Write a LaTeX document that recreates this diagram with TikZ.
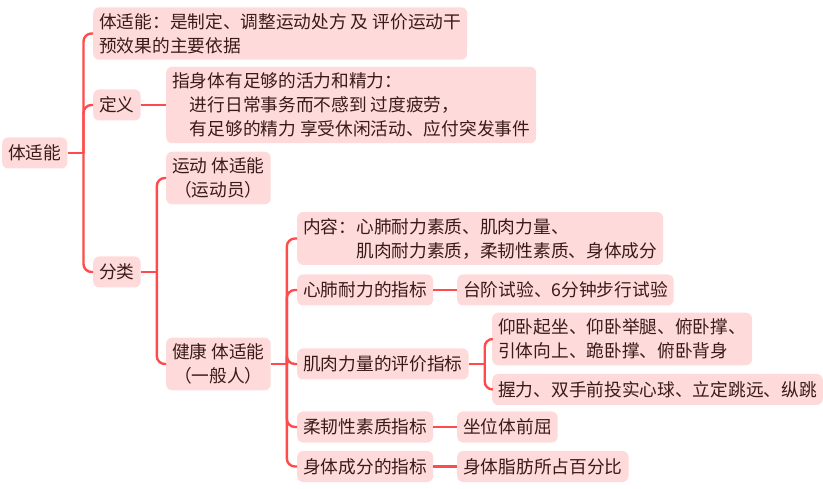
\documentclass[tikz,border=0pt]{standalone}
\usepackage{fontspec}
\setmainfont{Noto Sans CJK SC}
\usetikzlibrary{calc}

\definecolor{mmline}{HTML}{FF4B4B}
\definecolor{mmfill}{HTML}{FFDADA}
\definecolor{mmtext}{HTML}{3A1A1A}

\begin{document}
\begin{tikzpicture}[
            x=1pt, y=-1pt,
            font=\fontsize{17.7}{24}\selectfont,
            topic/.style={anchor=west, fill=mmfill, text=mmtext, rounded corners=6pt,
                inner xsep=6pt, inner ysep=6pt, minimum height=31pt, align=left},
            link/.style={draw=mmline, line width=2.4pt, rounded corners=8pt}
        ]
        \useasboundingbox (0,0) rectangle (823,489);

        % Offset of a branch trunk from its parent
        \def\trunk{16}

        % --- Level 0 and 1 ---
        \node[topic] (root) at (2,153) {体适能};
        \node[topic] (basis) at (93,33.5) {体适能：是制定、调整运动处方 及 评价运动干\\预效果的主要依据};
        \node[topic] (def) at (93,105) {定义};
        \node[topic] (cls) at (93,272) {分类};

        % --- Definition ---
        \node[topic] (defText) at (166,105) {指身体有足够的活力和精力：\\\hspace*{1em}进行日常事务而不感到 过度疲劳，\\\hspace*{1em}有足够的精力 享受休闲活动、应付突发事件};

        % --- Classification ---
        \node[topic, align=center] (sport) at (166,178) {运动 体适能\\（运动员）};
        \node[topic, align=center] (health) at (166,364) {健康 体适能\\（一般人）};

        % --- Health fitness ---
        \node[topic] (content) at (297,238.5) {内容：心肺耐力素质、肌肉力量、\\\hspace*{3em}肌肉耐力素质，柔韧性素质、身体成分};
        \node[topic] (cardio) at (297,290) {心肺耐力的指标};
        \node[topic] (cardioVal) at (457,290) {台阶试验、6分钟步行试验};
        \node[topic] (muscle) at (297,364) {肌肉力量的评价指标};
        \node[topic] (muscleA) at (492,339) {仰卧起坐、仰卧举腿、俯卧撑、\\引体向上、跪卧撑、俯卧背身};
        \node[topic] (muscleB) at (492,389.5) {握力、双手前投实心球、立定跳远、纵跳};
        \node[topic] (flex) at (297,427) {柔韧性素质指标};
        \node[topic] (flexVal) at (457,427) {坐位体前屈};
        \node[topic] (body) at (297,466.5) {身体成分的指标};
        \node[topic] (bodyVal) at (457,466.5) {身体脂肪所占百分比};

        % --- Trunks ---
        \coordinate (rootJ) at ($(root.east)+(\trunk,0)$);
        \coordinate (clsJ) at ($(cls.east)+(\trunk,0)$);
        \coordinate (healthJ) at ($(health.east)+(\trunk,0)$);
        \coordinate (muscleJ) at ($(muscle.east)+(\trunk,0)$);

        % --- Connectors ---
        \draw[link] (root.east) -- (rootJ);
        \foreach \kid in {basis, def, cls}
            \draw[link] (rootJ) |- (\kid.west);
        \draw[link] (def.east) -- (defText.west);

        \draw[link] (cls.east) -- (clsJ);
        \foreach \kid in {sport, health}
            \draw[link] (clsJ) |- (\kid.west);

        \draw[link] (health.east) -- (healthJ);
        \foreach \kid in {content, cardio, muscle, flex, body}
            \draw[link] (healthJ) |- (\kid.west);
        \draw[link] (cardio.east) -- (cardioVal.west);
        \draw[link] (flex.east) -- (flexVal.west);
        \draw[link] (body.east) -- (bodyVal.west);

        \draw[link] (muscle.east) -- (muscleJ);
        \foreach \kid in {muscleA, muscleB}
            \draw[link] (muscleJ) |- (\kid.west);

        \end{tikzpicture}
\end{document}
